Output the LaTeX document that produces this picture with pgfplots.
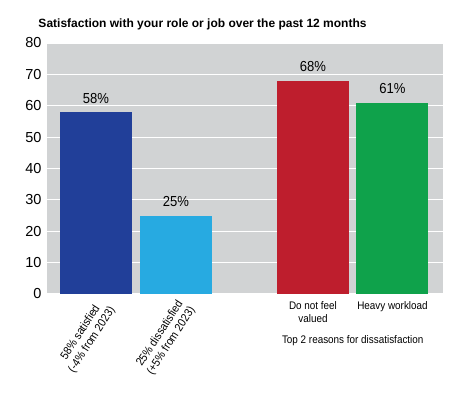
\documentclass[border=0pt]{standalone}
\usepackage{fontspec}
\setmainfont{Liberation Sans}
\newfontfamily\cond[FakeStretch=0.9]{Liberation Sans}
\usepackage{pgfplots}
\pgfplotsset{compat=1.18}
\definecolor{bg}{HTML}{D1D3D4}
\definecolor{c1}{HTML}{213F99}
\definecolor{c2}{HTML}{27AAE1}
\definecolor{c3}{HTML}{BE1E2D}
\definecolor{c4}{HTML}{0FA24B}
\begin{document}
\begin{tikzpicture}
\begin{axis}[name=ax, scale only axis, width=396pt, height=251pt, clip=false,
  xmin=-0.6125, xmax=4.3375, ymin=0, ymax=80,
  ytick={0,10,...,80}, xtick=\empty,
  axis background/.style={fill=bg},
  axis line style={draw=none},
  ymajorgrids, grid style={white, line width=1pt},
  major tick length=0pt,
  yticklabel style={font=\fontsize{14.5}{15}\selectfont, xshift=-2pt},
  /pgf/number format/assume math mode=true,
  ybar, bar width=72pt,
  nodes near coords={\pgfmathprintnumber{\pgfplotspointmeta}\%},
  nodes near coords style={font=\cond\fontsize{14.5}{15}\selectfont, anchor=base, yshift=9pt, inner sep=0pt, text=black},
]
\addplot[fill=c1, draw=none, bar shift=0pt] coordinates {(0,58)};
\addplot[fill=c2, draw=none, bar shift=0pt] coordinates {(1.0,25)};
\addplot[fill=c3, draw=none, bar shift=0pt] coordinates {(2.7125,68)};
\addplot[fill=c4, draw=none, bar shift=0pt] coordinates {(3.706,61)};
\node[rotate=57, anchor=east, align=center, inner sep=0pt, font=\cond\fontsize{11.6}{13.5}\selectfont] at ([shift={(11pt,-10.5pt)}]axis cs:0,0) {58\% satisfied\\(-4\% from 2023)};
\node[rotate=57, anchor=east, align=center, inner sep=0pt, font=\cond\fontsize{11.6}{13.5}\selectfont] at ([shift={(11pt,-10.5pt)}]axis cs:1.0,0) {25\% dissatisfied\\(+5\% from 2023)};
\node[anchor=base, inner sep=0pt, font=\cond\fontsize{11}{13}\selectfont] at ([yshift=-15.3pt]axis cs:2.7125,0) {Do not feel};
\node[anchor=base, inner sep=0pt, font=\cond\fontsize{11}{13}\selectfont] at ([yshift=-28.7pt]axis cs:2.7125,0) {valued};
\node[anchor=base, inner sep=0pt, font=\cond\fontsize{11}{13}\selectfont] at ([yshift=-15.3pt]axis cs:3.706,0) {Heavy workload};
\node[anchor=base, inner sep=0pt, font=\cond\fontsize{11}{13}\selectfont] at ([yshift=-49.3pt]axis cs:3.209,0) {Top 2 reasons for dissatisfaction};
\end{axis}
\node[anchor=base west, inner sep=0pt, font=\bfseries\fontsize{12}{14}\selectfont] at ([shift={(-8.7pt,15pt)}]ax.north west) {Satisfaction with your role or job over the past 12 months};
\path ([shift={(-47pt,-100pt)}]ax.south west) rectangle ([shift={(25pt,43pt)}]ax.north east);
\end{tikzpicture}
\end{document}
